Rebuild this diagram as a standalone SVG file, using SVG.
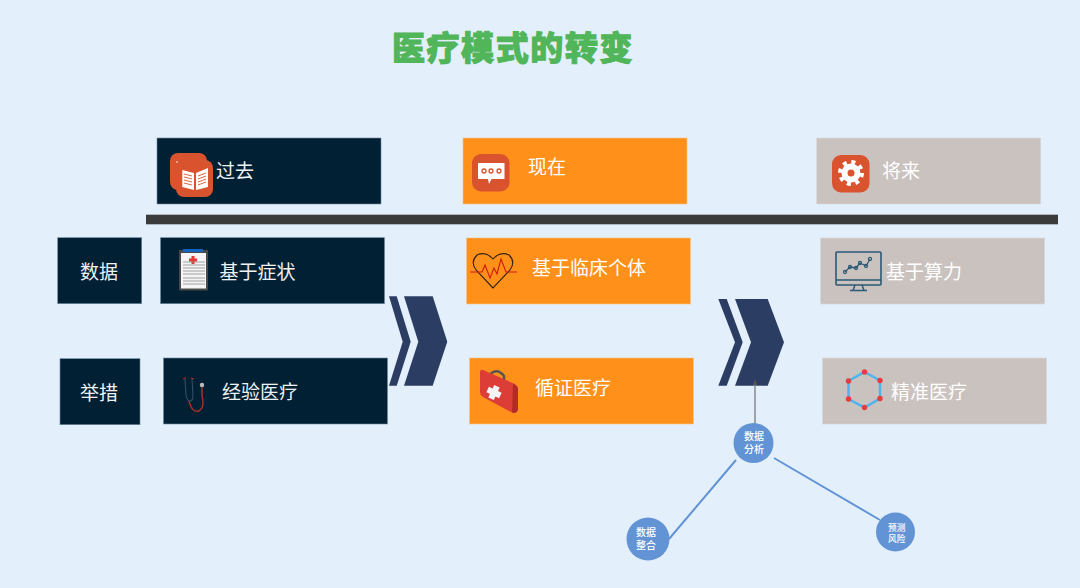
<svg xmlns="http://www.w3.org/2000/svg" width="1080" height="588" viewBox="0 0 1080 588">
<style>
text{font-family:"Noto Sans CJK SC","Noto Sans CJK TC",sans-serif;font-weight:400;text-anchor:middle}
.lb{font-size:19px;fill:#eef2f4}
.wt{font-size:19px;fill:#fff}
.nv{fill:#012033;stroke:#6f8ba0;stroke-width:.6}
.og{fill:#ff911a;stroke:#f9c48b;stroke-width:.6}
.gy{fill:#cac2bf;stroke:#d8d6d8;stroke-width:.6}
.ch{fill:#2c3d63}
.ci{fill:#6293d4}
.ct{font-size:10px;fill:#fff;font-weight:500}
.ln{fill:none;stroke:#6293d4;stroke-width:2}
.ic{fill:#d9532e}
</style>
<defs><marker id="tip" markerWidth="6" markerHeight="4" refX="3" refY="2" orient="auto" markerUnits="userSpaceOnUse"><path d="M0 0L6 2L0 4Z" fill="#555"/></marker></defs>
<rect width="1080" height="588" fill="#e3f0fc"/>
<text x="513" y="60" style="font-size:33px;letter-spacing:1.6px;font-weight:900;fill:#51b55a;stroke:#51b55a;stroke-width:1">医疗模式的转变</text>
<rect id="divider" x="146" y="214.700" width="912" height="9.600" fill="#3b3b3b"/>

<g id="past"><rect class="nv" x="157" y="138" width="224" height="66"/>
<rect class="ic" x="170" y="153" width="37" height="37" rx="8"/><rect class="ic" x="176" y="160" width="37" height="37" rx="8"/>
<circle cx="177" cy="162" r=".8" fill="#fff"/>
<path fill="#fff" d="M182.300 170L194 173V190L182.300 187ZM196 173L208 168V187L196 190Z"/>
<path stroke="#d9532e" stroke-width=".9" d="M184 174L192 176M184 177L192 179M184 180L192 182M184 183L192 185M198 176L206 173M198 179L206 176M198 182L206 179M198 185L206 182"/>
<text class="lb" x="235" y="178">过去</text></g>

<g id="present"><rect class="og" x="463" y="138" width="224" height="66"/>
<rect class="ic" x="472" y="154" width="37.500" height="37.500" rx="9"/>
<path fill="#fff" d="M478 163H504.500V179H491.500L489 184L488 179H478Z"/>
<g fill="none" stroke="#d9532e" stroke-width="1.300"><circle cx="484" cy="171" r="2"/><circle cx="491" cy="171" r="2"/><circle cx="499" cy="171" r="2"/></g>
<text class="wt" x="547" y="174">现在</text></g>

<g id="future"><rect class="gy" x="816.700" y="138" width="224" height="66"/>
<rect class="ic" x="832" y="155" width="37.500" height="37.500" rx="9"/>
<circle cx="851" cy="173" r="9.500" fill="#fff"/>
<circle cx="851" cy="173" r="11" fill="none" stroke="#fff" stroke-width="4" stroke-dasharray="4 4.640"/>
<circle cx="851" cy="173" r="3.500" fill="#d9532e"/>
<text class="wt" x="901" y="178">将来</text></g>

<g id="row-data"><rect class="nv" x="57.700" y="237.700" width="84" height="66"/><text class="lb" x="99" y="278.500">数据</text></g>
<g id="row-action"><rect class="nv" x="60" y="358.700" width="80" height="66"/><text class="lb" x="99" y="399.500">举措</text></g>

<g id="symptom"><rect class="nv" x="160.500" y="237.700" width="224" height="66"/>
<rect x="179" y="250" width="29" height="40.500" rx="1" fill="#4a4a4a"/>
<rect x="183" y="249" width="20" height="3" fill="#1565c0"/>
<rect x="181" y="253" width="25" height="35.500" fill="#f5f5f5"/>
<path d="M191.500 256h3v2.500h2.500v3h-2.500v2.500h-3v-2.500H189v-3h2.500Z" fill="#e53935"/>
<path d="M183 262H205M183 265H205M183 268H205M183 271H205M183 274H205M183 278H205M183 281H205M183 284H205" stroke="#8b8b8b" stroke-width=".8"/>
<text class="lb" x="257.500" y="279">基于症状</text></g>

<g id="experience"><rect class="nv" x="163.500" y="358" width="224" height="66"/>
<path d="M185 379L186 395Q187 401 190 401Q193 401 193 395L192 379" fill="none" stroke="#30506a" stroke-width="1.100"/>
<path d="M183 379L186 378M191 378L194 379" stroke="#a33027" stroke-width="1.200"/>
<path d="M189 401Q192 413 199 411Q205 408 202 395V386" fill="none" stroke="#a33027" stroke-width="1.500"/>
<circle cx="202" cy="385" r="2.200" fill="#bbb"/>
<text class="lb" x="260" y="399">经验医疗</text></g>

<g id="clinical"><rect class="og" x="466.500" y="238" width="224" height="66"/>
<path d="M493 288L476 270Q470 262 477 255Q486 251 493 259Q500 251 509 255Q516 262 510 270Z" fill="none" stroke="#33241a" stroke-width="1.100"/>
<path d="M470 272H482L485 265L490 278L494 268L497 274L501 259L506 272H517" fill="none" stroke="#d0180e" stroke-width="1.100"/>
<text class="wt" x="589" y="275">基于临床个体</text></g>

<g id="evidence"><rect class="og" x="469.500" y="358" width="224" height="66"/>
<path d="M489.500 375Q497 367 504 376V380" fill="none" stroke="#555" stroke-width="2.500"/>
<path d="M483 370L515 384Q518 386 518 389V409Q517 414 512 412.500L483 397Q480 395 480 392V373Q480 369 483 370Z" fill="#dc3d36"/>
<path d="M513 384Q518 386 518 389V409Q517 414 512 412.500Z" fill="#b32a26"/>
<g fill="#f4f4f4" transform="rotate(25 494 392.500)"><rect x="491" y="385.500" width="6" height="14"/><rect x="487" y="389.500" width="14" height="6"/></g>
<text class="wt" x="573" y="395">循证医疗</text></g>

<g id="compute"><rect class="gy" x="820.500" y="238" width="224" height="66"/>
<rect x="836" y="252" width="45" height="33" rx="1" fill="none" stroke="#2a5a75" stroke-width="1.600"/>
<path d="M836 280H881M855 285L853 290.500M862 285L864 290.500M850 290.500H867" fill="none" stroke="#2a5a75" stroke-width="1.500"/>
<path d="M845 272L850 267L856 268L860 263L866 266L870 259" fill="none" stroke="#2a5a75" stroke-width="1.300"/>
<g fill="none" stroke="#2a5a75" stroke-width="1.100"><circle cx="845" cy="272" r="1.600"/><circle cx="850" cy="267" r="1.600"/><circle cx="856" cy="268" r="1.600"/><circle cx="860" cy="263" r="1.600"/><circle cx="866" cy="266" r="1.600"/><circle cx="870" cy="259" r="1.600"/></g>
<text class="wt" x="924" y="279">基于算力</text></g>

<g id="precision"><rect class="gy" x="822.500" y="358" width="224" height="66"/>
<path d="M864.500 372L880 380.500V398.500L864.500 407.500L848.500 399V381Z" fill="none" stroke="#4db5ee" stroke-width="2.500"/>
<g fill="#e53d3d"><circle cx="864.500" cy="372" r="2.700"/><circle cx="880" cy="380.500" r="2.700"/><circle cx="880" cy="398.500" r="2.700"/><circle cx="864.500" cy="407.500" r="2.700"/><circle cx="848.500" cy="399" r="2.700"/><circle cx="848.500" cy="381" r="2.700"/></g>
<text class="wt" x="929" y="399">精准医疗</text></g>

<g id="chevron-1"><path class="ch" d="M389 296.300H396.700L410.700 341.700L396.700 385.700H389L402.700 341.700Z"/><path class="ch" d="M404 296.300H432.700L447.300 341.700L432.700 385.700H404L418.300 341.700Z"/></g>
<g id="chevron-2"><path class="ch" d="M718.300 299H726.700L742.700 342.300L726.700 385.700H718.300L735 342.300Z"/><path class="ch" d="M735 299H767.700L784 342.300L767.700 385.700H735L751 342.300Z"/></g>

<g id="connectors">
<path d="M755 424V382" stroke="#8a8a8a" stroke-width="1.500" fill="none" marker-end="url(#tip)"/>
<path class="ln" d="M736 460L669 539M774 458L880 520"/>
</g>

<g id="analysis"><circle class="ci" cx="753.500" cy="443" r="20"/><text class="ct" x="754" y="439.500">数据</text><text class="ct" x="754" y="453">分析</text></g>
<g id="integration"><circle class="ci" cx="648" cy="539" r="21.500"/><text class="ct" x="646" y="535.500">数据</text><text class="ct" x="646" y="549">整合</text></g>
<g id="risk"><circle class="ci" cx="895.500" cy="532" r="19.500"/><text class="ct" x="896.700" y="530.500" style="font-size:8.700px">预测</text><text class="ct" x="896.700" y="541.500" style="font-size:8.700px">风险</text></g>
</svg>
